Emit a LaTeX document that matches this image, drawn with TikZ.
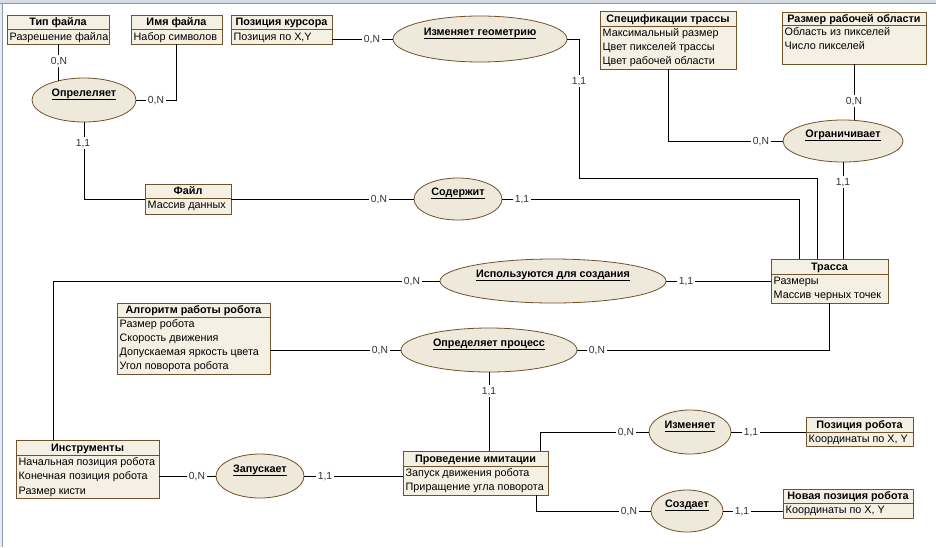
\documentclass[tikz,border=0pt]{standalone}
\usepackage{fontspec}
\setmainfont{Liberation Sans}
\usetikzlibrary{shapes.geometric}
\definecolor{efill}{HTML}{F4F0E3}
\definecolor{eline}{HTML}{72522A}
\definecolor{rfill}{HTML}{EEE9DB}
\definecolor{framec}{HTML}{8A9BB0}
\newcommand\myul[1]{\setbox0\hbox{#1}\rlap{\rule[-2.6pt]{\wd0}{0.7pt}}\box0}
\tikzset{
 ebox/.style={draw=eline, fill=efill, line width=0.9pt, inner sep=0pt, rectangle},
 sepl/.style={draw=eline, line width=0.8pt},
 ehead/.style={font=\fontsize{10.8}{12}\selectfont\bfseries, inner sep=0pt, text height=7.8pt, text depth=0pt, anchor=center},
 erowst/.style={font=\fontsize{10.8}{12}\selectfont, inner sep=0pt, text height=7.8pt, text depth=0pt, anchor=west},
 rel/.style={ellipse, draw=eline, fill=rfill, line width=0.8pt, inner sep=0pt},
 reltext/.style={font=\fontsize{10.8}{12}\selectfont\bfseries, inner sep=0pt, text height=7.8pt, text depth=0pt},
 conn/.style={draw=black, line width=1pt},
 lab/.style={font=\fontsize{10.3}{12}\selectfont, fill=white, inner sep=2pt, text height=7.5pt, text depth=0pt, text=black!80},
}
\newcommand\ent[7]{%
 \node[ebox, minimum width={(#4-#2)*1pt}, minimum height={(#5-#3)*1pt}] (#1) at ({(#2+#4)/2},{(#3+#5)/2}) {};
 \draw[sepl] (#2,#6) -- (#4,#6);
 \node[ehead] (#1-h) at ({(#2+#4)/2},{(#3+#6)/2}) {#7};
}
\newcommand\rowtext[4]{\node[erowst] (#1) at (#2,#3) {#4};}
\newcommand\relat[6]{%
 \node[rel, minimum width={2*#4*1pt}, minimum height={2*#5*1pt}] (#1) at (#2,#3) {};
 \node[reltext] (#1-t) at (#2,{#3-7}) {\myul{#6}};
}
\begin{document}
\begin{tikzpicture}[x=1pt,y=-1pt]
\useasboundingbox (0,0) rectangle (936,547);
\fill[white] (0,0) rectangle (936,547);
\fill[framec!35] (0,0) rectangle (936,3.5);
\fill[framec!20] (0,3.5) rectangle (2.5,547);
\draw[framec, line width=0.8pt] (0,3.5) -- (936,3.5);
\draw[framec, line width=0.8pt] (2.5,3.5) -- (2.5,547);

% entities
\ent{tip}{7}{15}{109}{44}{29}{Тип файла}
\rowtext{tip-r1}{9.5}{37}{Разрешение файла}
\ent{imya}{131}{15}{222}{44}{29}{Имя файла}
\rowtext{imya-r1}{133.5}{37}{Набор символов}
\ent{poz}{231}{15}{332}{44}{29}{Позиция курсора}
\rowtext{poz-r1}{233.5}{37}{Позиция по X,Y}
\ent{spec}{600}{11}{736}{69}{26}{Спецификации трассы}
\rowtext{spec-r1}{602.5}{33}{Максимальный размер}
\rowtext{spec-r2}{602.5}{47}{Цвет пикселей трассы}
\rowtext{spec-r3}{602.5}{61}{Цвет рабочей области}
\ent{razm}{782}{12}{926}{64}{25}{Размер рабочей области}
\rowtext{razm-r1}{784.5}{32}{Область из пикселей}
\rowtext{razm-r2}{784.5}{46}{Число пикселей}
\ent{fail}{145}{184}{231}{214}{198}{Файл}
\rowtext{fail-r1}{147.5}{205}{Массив данных}
\ent{trassa}{771}{259}{888}{303}{274}{Трасса}
\rowtext{trassa-r1}{773.5}{281}{Размеры}
\rowtext{trassa-r2}{773.5}{295}{Массив черных точек}
\ent{algo}{117}{303}{270}{374}{317}{Алгоритм работы робота}
\rowtext{algo-r1}{119.5}{324}{Размер робота}
\rowtext{algo-r2}{119.5}{338}{Скорость движения}
\rowtext{algo-r3}{119.5}{352}{Допускаемая яркость цвета}
\rowtext{algo-r4}{119.5}{366}{Угол поворота робота}
\ent{instr}{16}{440}{159}{498}{455}{Инструменты}
\rowtext{instr-r1}{18.5}{462}{Начальная позиция робота}
\rowtext{instr-r2}{18.5}{476}{Конечная позиция робота}
\rowtext{instr-r3}{18.5}{491}{Размер кисти}
\ent{prov}{403}{451}{548}{495}{466}{Проведение имитации}
\rowtext{prov-r1}{405.5}{473}{Запуск движения робота}
\rowtext{prov-r2}{405.5}{487}{Приращение угла поворота}
\ent{pozr}{806}{417}{913}{446}{432}{Позиция робота}
\rowtext{pozr-r1}{808.5}{439}{Координаты по X, Y}
\ent{novr}{783}{489}{913}{518}{503}{Новая позиция робота}
\rowtext{novr-r1}{785.5}{510}{Координаты по X, Y}

% relationships
\relat{opr}{84}{100}{52}{22}{Опрелеляет}
\relat{izg}{480}{39}{87}{23}{Изменяет геометрию}
\relat{ogr}{843}{141}{60}{21}{Ограничивает}
\relat{sod}{458}{199}{44}{21}{Содержит}
\relat{isp}{553}{281}{113}{22}{Используются для создания}
\relat{opp}{489}{350}{88}{22}{Определяет процесс}
\relat{zap}{260}{476}{44}{22}{Запускает}
\relat{izm}{690}{432}{41}{22}{Изменяет}
\relat{soz}{687}{511}{36}{21}{Создает}

% bend points
\coordinate (k1) at (799,199);
\coordinate (k2) at (579,178);
\coordinate (k3) at (817,178);
\coordinate (k4) at (53,281);
\coordinate (k5) at (540,432);
\coordinate (k6) at (536,511);

% connectors
\draw[conn] (tip.south) -- (tip.south |- opr.144);
\draw[conn] (imya.south) |- (opr.east);
\draw[conn] (opr.south) |- (fail.west);
\draw[conn] (fail.east) -- (sod.west);
\draw[conn] (sod.east) -- (k1) -- (k1 |- trassa.north);
\draw[conn] (poz.east |- izg.west) -- (izg.west);
\draw[conn] (izg.east) -| (k2) -- (k3) -- (k3 |- trassa.north);
\draw[conn] (spec.south) |- (ogr.west);
\draw[conn] (razm.south) -- (razm.south |- ogr.62);
\draw[conn] (ogr.south) -- (ogr.south |- trassa.north);
\draw[conn] (trassa.west) -- (isp.east);
\draw[conn] (isp.west) -- (k4) -- (k4 |- instr.north);
\draw[conn] (algo.east |- opp.west) -- (opp.west);
\draw[conn] (opp.east) -| (trassa.south);
\draw[conn] (opp.south) -- (opp.south |- prov.north);
\draw[conn] (instr.east |- zap.west) -- (zap.west);
\draw[conn] (zap.east) -- (zap.east -| prov.west);
\draw[conn] (k5 |- prov.north) -- (k5) -- (izm.west);
\draw[conn] (k6 |- prov.south) -- (k6) -- (soz.west);
\draw[conn] (izm.east) -- (izm.east -| pozr.west);
\draw[conn] (soz.east) -- (soz.east -| novr.west);

% cardinality labels
\node[lab] (l1) at (59,61) {0,N};
\node[lab] (l2) at (156,100) {0,N};
\node[lab] (l3) at (83,143) {1,1};
\node[lab] (l4) at (379,199) {0,N};
\node[lab] (l5) at (522,199) {1,1};
\node[lab] (l6) at (372,39) {0,N};
\node[lab] (l7) at (579,81) {1,1};
\node[lab] (l8) at (761,141) {0,N};
\node[lab] (l9) at (854,101) {0,N};
\node[lab] (l10) at (843,182) {1,1};
\node[lab] (l11) at (686,281) {1,1};
\node[lab] (l12) at (412,281) {0,N};
\node[lab] (l13) at (380,350) {0,N};
\node[lab] (l14) at (597,350) {0,N};
\node[lab] (l15) at (489,391) {1,1};
\node[lab] (l16) at (197,476) {0,N};
\node[lab] (l17) at (325,476) {1,1};
\node[lab] (l18) at (626,432) {0,N};
\node[lab] (l19) at (629,511) {0,N};
\node[lab] (l20) at (751,432) {1,1};
\node[lab] (l21) at (742,511) {1,1};
\end{tikzpicture}
\end{document}
